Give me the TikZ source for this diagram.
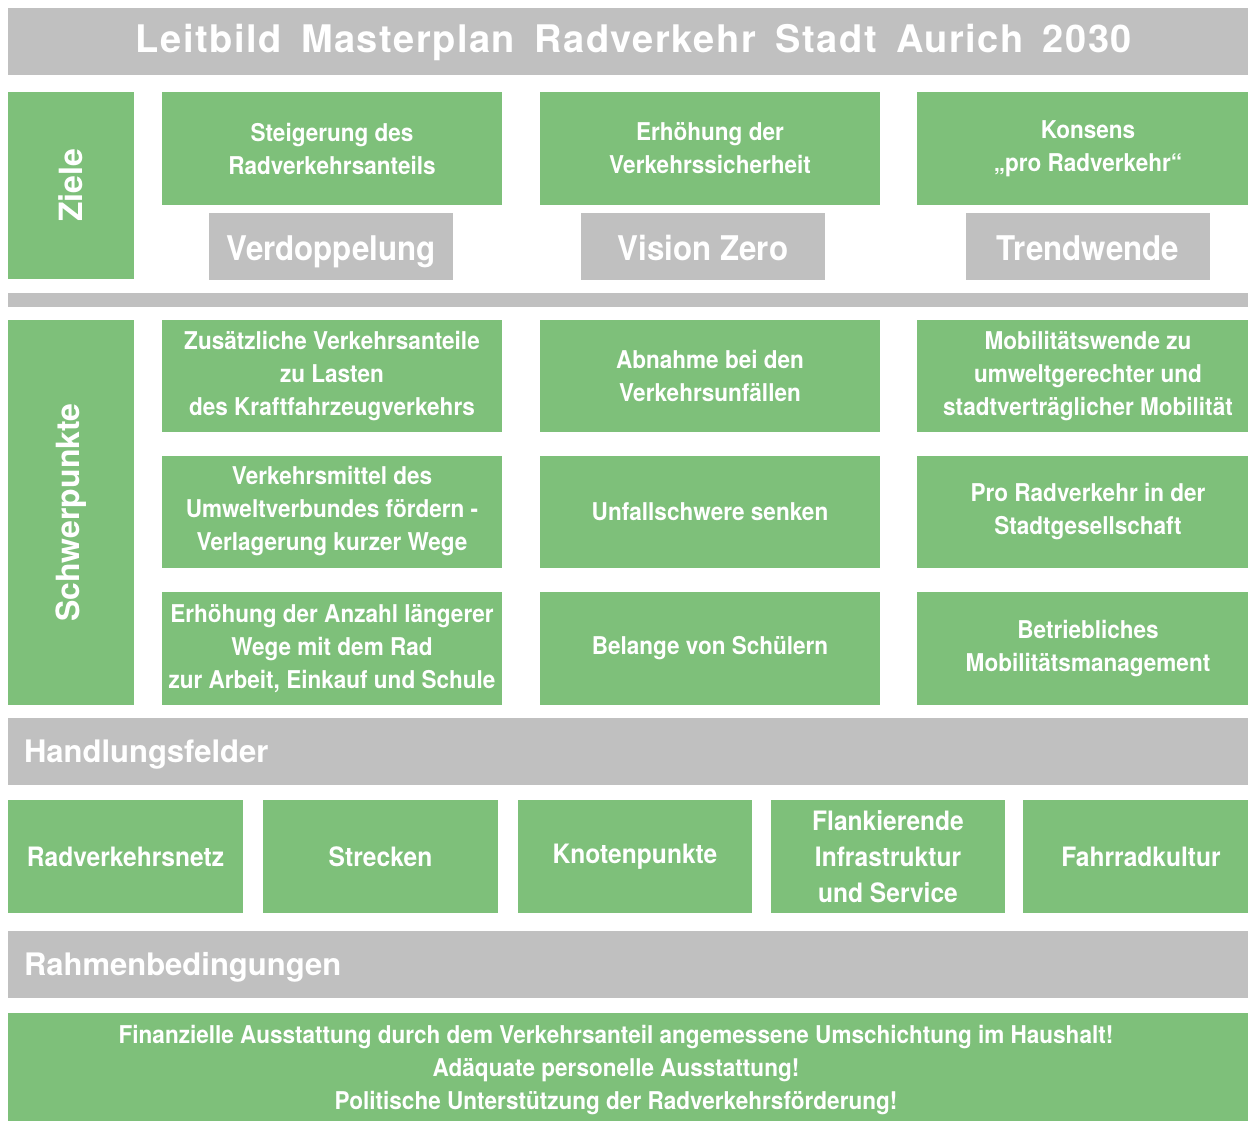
\documentclass[tikz,border=0pt]{standalone}
\usepackage{fontspec}
\setmainfont{TeX Gyre Heros}
\newfontfamily\narrowfont[FakeStretch=0.92]{TeX Gyre Heros}
\newfontfamily\titlefont[LetterSpace=4,WordSpace=1.6]{TeX Gyre Heros}
\usepackage{tikz}
\usetikzlibrary{positioning}
\definecolor{leafgreen}{RGB}{126,192,122}
\definecolor{bargray}{RGB}{192,192,192}
\tikzset{
every node/.style={inner sep=0pt, outer sep=0pt, text=white}, % plain boxes, no gaps
greenbox/.style={fill=leafgreen, align=center, font=\narrowfont\bfseries\fontsize{24.5}{33}\selectfont}, % content boxes
fieldbox/.style={greenbox, minimum height=113, font=\narrowfont\bfseries\fontsize{26.7}{36}\selectfont}, % Handlungsfelder boxes
graybox/.style={fill=bargray}, % bars and labels
mottobox/.style={graybox, minimum width=244, minimum height=67, text height=27pt, text depth=0pt, font=\narrowfont\bfseries\fontsize{34}{40}\selectfont}, % Verdoppelung etc.
sidebox/.style={fill=leafgreen, rotate=90, font=\bfseries\fontsize{32}{36}\selectfont}, % Ziele / Schwerpunkte
barlabel/.style={graybox, minimum width=1252, minimum height=67, text width=1220, inner xsep=16pt, align=left, text height=22.3pt, text depth=0pt, font=\bfseries\fontsize{31}{36}\selectfont}, % section bars
}

\begin{document}
\begin{tikzpicture}[x=1pt, y=-1pt]
\useasboundingbox (0,0) rectangle (1248,1121);

% title
\node[graybox, minimum width=1252, minimum height=67, text height=27.3pt, text depth=5.3pt, font=\titlefont\bfseries\fontsize{38}{44}\selectfont] (title) at (634,41.5) {Leitbild Masterplan Radverkehr Stadt Aurich 2030};

% Ziele
\node[sidebox, minimum width=187, minimum height=126] (ziele) at (71,185.5) {Ziele};
\node[greenbox, minimum width=340, minimum height=113] (ziel1) at (332,148.5) {Steigerung des\\Radverkehrsanteils};
\node[greenbox, minimum width=340, minimum height=113] (ziel2) at (710,148.5) {Erhöhung der\\Verkehrssicherheit};
\node[greenbox, minimum width=342, minimum height=113] (ziel3) at (1088,148.5) {Konsens\\„pro Radverkehr“};
\node[mottobox] (motto1) at (331,246.5) {Verdoppelung};
\node[mottobox] (motto2) at (703,246.5) {Vision Zero};
\node[mottobox] (motto3) at (1088,246.5) {Trendwende};

\node[graybox, minimum width=1252, minimum height=14] (divider) at (634,300) {};

% Schwerpunkte
\node[sidebox, minimum width=385, minimum height=126] (schwer) at (71,512.5) {Schwerpunkte};
\node[greenbox, minimum width=340, minimum height=112] (sp11) at (332,376) {Zusätzliche Verkehrsanteile\\zu Lasten\\des Kraftfahrzeugverkehrs};
\node[greenbox, minimum width=340, minimum height=112] (sp12) at (710,376) {Abnahme bei den\\Verkehrsunfällen};
\node[greenbox, minimum width=342, minimum height=112] (sp13) at (1088,376) {Mobilitätswende zu\\umweltgerechter und\\stadtverträglicher Mobilität};
\node[greenbox, minimum width=340, minimum height=112] (sp21) at (332,511.5) {Verkehrsmittel des\\Umweltverbundes fördern -\\Verlagerung kurzer Wege};
\node[greenbox, minimum width=340, minimum height=112] (sp22) at (710,511.5) {Unfallschwere senken};
\node[greenbox, minimum width=342, minimum height=112] (sp23) at (1088,511.5) {Pro Radverkehr in der\\Stadtgesellschaft};
\node[greenbox, minimum width=340, minimum height=113] (sp31) at (332,648.5) {Erhöhung der Anzahl längerer\\Wege mit dem Rad\\zur Arbeit, Einkauf und Schule};
\node[greenbox, minimum width=340, minimum height=113] (sp32) at (710,648.5) {Belange von Schülern};
\node[greenbox, minimum width=342, minimum height=113] (sp33) at (1088,648.5) {Betriebliches\\Mobilitätsmanagement};

% Handlungsfelder
\node[barlabel] (handlung) at (634,751.5) {Handlungsfelder};
\node[fieldbox, minimum width=235] (hf1) at (125.5,856.5) {Radverkehrsnetz};
\node[fieldbox, minimum width=235] (hf2) at (380.5,856.5) {Strecken};
\node[fieldbox, minimum width=234] (hf3) at (635,856.5) {Knotenpunkte};
\node[fieldbox, minimum width=234] (hf4) at (888,856.5) {Flankierende\\Infrastruktur\\und Service};
\node[fieldbox, minimum width=236] (hf5) at (1141,856.5) {Fahrradkultur};

% Rahmenbedingungen
\node[barlabel] (rahmen) at (634,964.5) {Rahmenbedingungen};
\node[greenbox, minimum width=1252, minimum height=108] (rahmenbox) at (634,1067) {};
\node[font=\narrowfont\bfseries\fontsize{24.5}{33}\selectfont, align=center] (rahmentext) at ([xshift=-18pt, yshift=-3pt]rahmenbox.center) {Finanzielle Ausstattung durch dem Verkehrsanteil angemessene Umschichtung im Haushalt!\\Adäquate personelle Ausstattung!\\Politische Unterstützung der Radverkehrsförderung!};
\end{tikzpicture}
\end{document}
